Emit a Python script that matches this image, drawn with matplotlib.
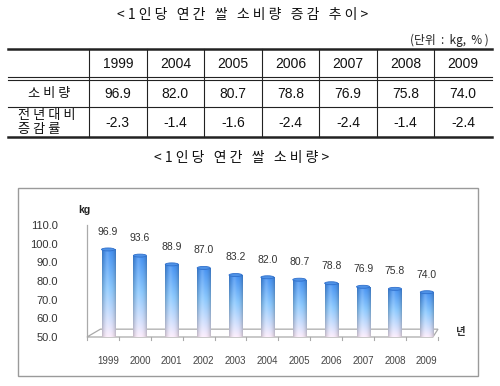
import numpy as np
import matplotlib
matplotlib.use("Agg")
import matplotlib.pyplot as plt
from matplotlib.patches import Rectangle, Ellipse, Polygon

plt.rcParams['font.family'] = ['Noto Sans CJK KR', 'DejaVu Sans']

# ---------------- data ----------------
table_title = "<1인당 연간 쌀 소비량 증감 추이>"
unit_text = "(단위  :  kg,  % )"
table_years = ["1999", "2004", "2005", "2006", "2007", "2008", "2009"]
table_consumption = ["96.9", "82.0", "80.7", "78.8", "76.9", "75.8", "74.0"]
table_change = ["-2.3", "-1.4", "-1.6", "-2.4", "-2.4", "-1.4", "-2.4"]
row_labels = ["소비량", "전년대비", "증감률"]

chart_title = "<1인당 연간 쌀 소비량>"
years = ["1999", "2000", "2001", "2002", "2003", "2004", "2005", "2006", "2007", "2008", "2009"]
values = [96.9, 93.6, 88.9, 87.0, 83.2, 82.0, 80.7, 78.8, 76.9, 75.8, 74.0]
y_ticks = [50, 60, 70, 80, 90, 100, 110]
y_unit = "kg"
x_unit = "년"

W, H = 500, 386
fig = plt.figure(figsize=(W / 100, H / 100), dpi=100)
fig.patch.set_facecolor("white")


def spaced(s):
    return " ".join(list(s))


# ---------------- table (pixel layout axes) ----------------
at = fig.add_axes([0, 0, 1, 1])
at.set_xlim(0, W)
at.set_ylim(H, 0)
at.axis("off")

at.text(243, 15, spaced(table_title), ha="center", va="center", fontsize=10, color="#111")
at.text(489, 40, unit_text, ha="right", va="center", fontsize=8.5, color="#222")

tx0, tx1 = 8, 492
first_w = 81
col_w = (tx1 - tx0 - first_w) / len(table_years)
row_y = [49, 78, 107, 137]
lc = "#222"
at.plot([tx0, tx1], [row_y[0], row_y[0]], color=lc, lw=1.8)
at.plot([tx0, tx1], [row_y[1] - 1.5, row_y[1] - 1.5], color=lc, lw=0.8)
at.plot([tx0, tx1], [row_y[1] + 1.5, row_y[1] + 1.5], color=lc, lw=0.8)
at.plot([tx0, tx1], [row_y[2], row_y[2]], color=lc, lw=0.8)
at.plot([tx0, tx1], [row_y[3], row_y[3]], color=lc, lw=1.8)
for i in range(len(table_years)):
    xv = tx0 + first_w + i * col_w
    at.plot([xv, xv], [row_y[0], row_y[3]], color=lc, lw=0.8)

num_font = ['Liberation Sans', 'Noto Sans CJK KR']
for i in range(len(table_years)):
    xc = tx0 + first_w + (i + 0.5) * col_w
    at.text(xc, (row_y[0] + row_y[1]) / 2, table_years[i], ha="center", va="center",
            fontsize=10, family=num_font, color="#111")
    at.text(xc, (row_y[1] + row_y[2]) / 2 + 1, table_consumption[i], ha="center", va="center",
            fontsize=10, family=num_font, color="#111")
    at.text(xc, (row_y[2] + row_y[3]) / 2 + 1, table_change[i], ha="center", va="center",
            fontsize=10, family=num_font, color="#111")

at.text(tx0 + first_w / 2 + 1, (row_y[1] + row_y[2]) / 2 + 1, spaced(row_labels[0]),
        ha="center", va="center", fontsize=9.5, color="#111")
at.text(18, (row_y[2] + row_y[3]) / 2 - 6, spaced(row_labels[1]),
        ha="left", va="center", fontsize=9.5, color="#111")
at.text(18, (row_y[2] + row_y[3]) / 2 + 8, spaced(row_labels[2]),
        ha="left", va="center", fontsize=9.5, color="#111")

# ---------------- chart frame & title ----------------
at.text(242, 158, spaced(chart_title), ha="center", va="center", fontsize=10, color="#111")
at.add_patch(Rectangle((18, 188), 460, 188, fill=False, edgecolor="#9a9a9a", lw=1.0))

# ---------------- bar chart ----------------
ax = fig.add_axes([87 / W, (H - 337) / H, (438 - 87) / W, (337 - 225) / H])
ax.set_facecolor("none")
x = np.arange(len(years))
bar_w = 0.41
ymin, ymax = y_ticks[0], y_ticks[-1]
bars = ax.bar(x, np.array(values) - ymin, bottom=ymin, width=bar_w,
              color="none", edgecolor="none", zorder=3)

ny, nx = 200, 40
v = np.linspace(0, 1, ny)[:, None]   # 0 bottom -> 1 top
u = np.linspace(-1, 1, nx)[None, :]
top = np.array([0.27, 0.57, 0.95])
mid = np.array([0.55, 0.79, 1.00])
bot = np.array([0.99, 0.93, 0.99])


def vcol(t):
    t = np.clip(t, 0, 1)
    a = np.clip(t / 0.55, 0, 1)[..., None]
    b = np.clip((t - 0.55) / 0.45, 0, 1)[..., None]
    c1 = bot * (1 - a) + mid * a
    return c1 * (1 - b) + top * b


base = vcol(np.repeat(v, nx, axis=1))
shade = 1 - 0.22 * np.abs(u) ** 2.5
highlight = 0.15 * np.exp(-((u + 0.25) / 0.3) ** 2)
img = base * shade[..., None] + highlight[..., None] * (1 - base)
img = np.clip(img, 0, 1)[::-1]

cap_h = 1.6
for b, val in zip(bars, values):
    x0 = b.get_x()
    x1 = x0 + b.get_width()
    im = ax.imshow(img, extent=[x0, x1, ymin, val], aspect="auto", zorder=3,
                   interpolation="bilinear")
    im.set_clip_path(b)
    ax.add_patch(Ellipse((x0 + b.get_width() / 2, val), b.get_width(), cap_h,
                         facecolor="#4f92e6", edgecolor="#3070cc", lw=0.6, zorder=4))
    ax.text(x0 + b.get_width() / 2, val + 6.8, f"{val:.1f}", ha="center",
            va="bottom", fontsize=7.5, color="#333", family=num_font)

xl0, xl1 = -0.66, 10.35
ax.set_xlim(xl0, xl1)
ax.set_ylim(ymin, ymax)

dx, dy = 0.42, 4.2
floor = Polygon([[xl0, ymin], [xl1 - 0.16, ymin], [xl1 + 0.0, ymin + dy], [xl0 + dx, ymin + dy]],
                closed=True, facecolor="none", edgecolor="#aaaaaa", lw=0.9, zorder=2,
                clip_on=False)
ax.add_patch(floor)

for s in ["top", "right", "bottom"]:
    ax.spines[s].set_visible(False)
ax.spines["left"].set_color("#aaaaaa")
ax.spines["left"].set_linewidth(0.9)
ax.set_yticks(y_ticks)
ax.set_yticklabels([f"{t:.1f}" for t in y_ticks], family=num_font, fontsize=8, color="#333")
ax.tick_params(axis="y", length=0, pad=21)
ax.set_xticks(x)
ax.set_xticklabels(years, family=num_font, fontsize=7, color="#444")
ax.tick_params(axis="x", length=0, pad=14)
for xb in np.arange(len(years) + 1) - 0.66:
    ax.plot([xb, xb], [ymin, ymin - 1.6], color="#aaaaaa", lw=0.8, clip_on=False, zorder=2)

ax.text(-0.75, ymax + 8, y_unit, ha="center", va="center", fontsize=7.5,
        fontweight="bold", color="#222", family=num_font)
ax.text(xl1 + 0.7, ymin + 2.5, x_unit, ha="center", va="center", fontsize=7.5,
        fontweight="bold", color="#333")

fig.savefig("out.png", dpi=100)
